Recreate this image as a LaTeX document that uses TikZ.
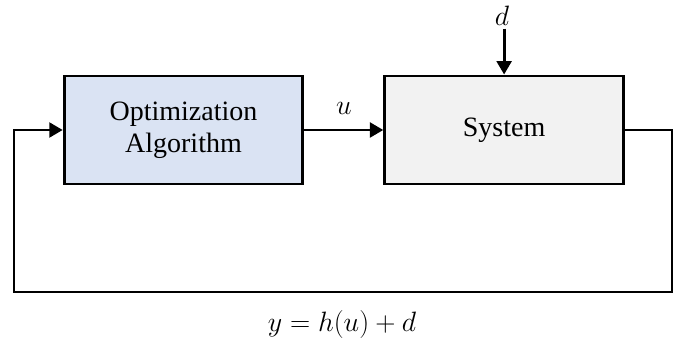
\RequirePackage{fix-cm}
\documentclass[tikz,border=0pt]{standalone}
\usepackage{fontspec}
\setmainfont{Liberation Serif}
\usetikzlibrary{positioning,arrows.meta}
\definecolor{optblue}{HTML}{DAE3F3}
\definecolor{sysgray}{HTML}{F2F2F2}
\tikzset{
    block/.style={draw, line width=2.2pt, minimum width=179pt, minimum height=81pt,
        align=center, font=\fontsize{21}{24}\selectfont},
    arr/.style={line width=2.2pt, -{Triangle[length=10pt,width=11pt]}},
    lbl/.style={font=\fontsize{21}{24}\selectfont}
}
\begin{document}
\begin{tikzpicture}[x=0.75pt, y=-0.75pt]
    \useasboundingbox (0,0) rectangle (684,345);
    % blocks
    \node[block, fill=optblue] (opt) at (183.5,130) {Optimization\\Algorithm};
    \node[block, fill=sysgray, right=59.25pt of opt] (sys) {System};
    % disturbance
    \node[lbl, inner sep=2pt] (dist) at (502,16) {$d$};
    \draw[arr] (sys.north |- dist.south) -- (sys.north);
    % control input
    \draw[arr] (opt.east) -- node[lbl, above=7pt] (ulbl) {$u$} (sys.west);
    % feedback
    \coordinate (fbR) at (672,292);
    \coordinate (fbL) at (14,292);
    \draw[arr] (sys.east) -| (fbR) -- (fbL) |- (opt.west);
    \node[lbl, below=10pt] (ylbl) at (342,292) {$y = h(u) + d$};
\end{tikzpicture}
\end{document}
